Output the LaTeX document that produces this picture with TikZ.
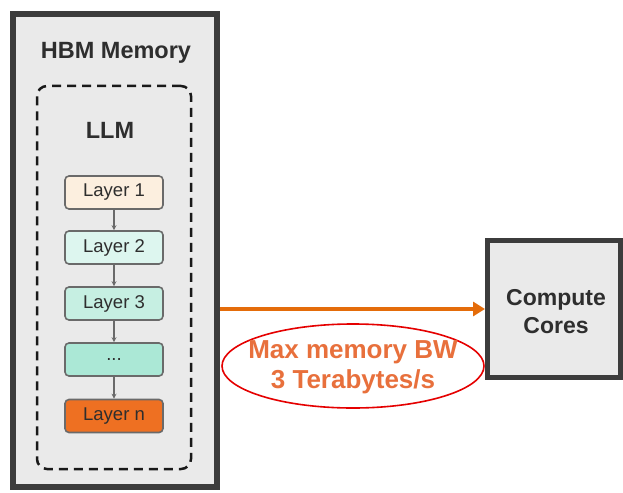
\documentclass[tikz,border=0pt]{standalone}
\usepackage{fontspec}
\setmainfont{Liberation Sans}
\usetikzlibrary{arrows.meta,shapes.geometric}
\definecolor{frame}{HTML}{3C3C3C}
\definecolor{boxfill}{HTML}{EAEAEA}
\definecolor{layerborder}{HTML}{6A6A6A}
\definecolor{peach}{HTML}{FCEFDF}
\definecolor{mintA}{HTML}{DDF6EF}
\definecolor{mintB}{HTML}{C6EFE2}
\definecolor{mintC}{HTML}{ABE8D6}
\definecolor{layerorange}{HTML}{EE7022}
\definecolor{arroworange}{HTML}{E46C0A}
\definecolor{bwtext}{HTML}{E8703C}
\definecolor{textgray}{HTML}{2E2E2E}
\tikzset{
  bigbox/.style={draw=frame, line width=6pt, fill=boxfill, inner sep=0pt},
  layerbox/.style={draw=layerborder, line width=1.6pt, rounded corners=4pt,
    minimum width=98pt, minimum height=33pt, inner sep=0pt,
    font=\fontsize{18.5}{22}\selectfont, text=textgray},
  layerarrow/.style={draw=layerborder, line width=1.4pt, -{Stealth[length=5pt,width=5pt]}},
  title/.style={font=\fontsize{23.5}{28}\selectfont\bfseries, text=textgray},
}
\begin{document}
\begin{tikzpicture}[x=1pt,y=-1pt]
\useasboundingbox[fill=white] (0,0) rectangle (623,492);
\node[bigbox, minimum width=204pt, minimum height=473pt] (hbm) at (115,250.5) {};
\node[bigbox, line width=5pt, minimum width=133pt, minimum height=137pt] (compute) at (554,309) {};
\node[title, align=center, font=\fontsize{23}{28}\selectfont\bfseries] (ctext) at (556,312) {Compute\\[0pt]Cores};
\node[title] (hbmtitle) at (116,53) {HBM Memory};
\node[draw=black!90, line width=2.5pt, dash pattern=on 9pt off 6pt, rounded corners=10pt,
  minimum width=154pt, minimum height=383pt, inner sep=0pt] (llmbox) at (114,277.5) {};
\node[title] (llm) at (110,130) {LLM};
\node[layerbox, fill=peach] (l1) at (114,192.5) {Layer 1};
\node[layerbox, fill=mintA] (l2) at (114,247.5) {Layer 2};
\node[layerbox, fill=mintB] (l3) at (114,303.5) {Layer 3};
\node[layerbox, fill=mintC] (ld) at (114,359.5) {...};
\node[layerbox, fill=layerorange] (ln) at (114,416) {Layer n};
\draw[layerarrow] (l1) -- (l2);
\draw[layerarrow] (l2) -- (l3);
\draw[layerarrow] (l3) -- (ld);
\draw[layerarrow] (ld) -- (ln);
\draw[arroworange, line width=4pt, -{Triangle[length=12pt,width=14pt]}] (compute.west -| hbm.east) -- (compute.west);
\node[draw=red!90!black, line width=1.6pt, ellipse, inner sep=0pt, minimum width=262pt, minimum height=84pt] (bw) at (353,366) {};
\node[font=\fontsize{26}{30}\selectfont\bfseries, text=bwtext, align=center] (bwtext) at (353,367) {Max memory BW\\3 Terabytes/s};
\end{tikzpicture}
\end{document}
